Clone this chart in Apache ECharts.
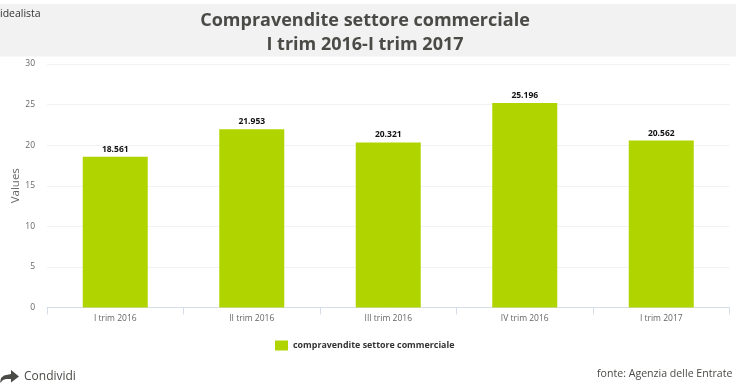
<!DOCTYPE html>
<html><head><meta charset="utf-8">
<style>html,body{margin:0;padding:0;background:#fff}#c{width:740px;height:389px}</style>
<script src="https://cdn.jsdelivr.net/npm/echarts@6/dist/echarts.min.js"></script>
</head><body><div id="c"></div>
<script>
const categories = ["I trim 2016","II trim 2016","III trim 2016","IV trim 2016","I trim 2017"];
const values = [18.561,21.953,20.321,25.196,20.562];
const seriesName = "compravendite settore commerciale";
const titleLines = "Compravendite settore commerciale\nI trim 2016-I trim 2017";
const FONT = "'Open Sans'";
const chart = echarts.init(document.getElementById('c'),null,{renderer:'canvas'});
chart.setOption({
  animation:false,
  textStyle:{fontFamily:FONT},
  graphic:[
    {type:'rect',z:-1,shape:{x:0,y:4,width:736,height:52.5},style:{fill:'#f2f2f2'}},
    {type:'text',x:0,y:9,style:{text:'idealista',font:"10.5px "+FONT,fill:'#333'}},
    {type:'text',x:24,y:371,style:{text:'Condividi',font:"12px "+FONT,fill:'#4a4a46'}},
    {type:'text',x:597,y:368,style:{text:'fonte: Agenzia delle Entrate',font:"10.6px "+FONT,fill:'#4a4a46'}},
    {type:'polygon',x:0,y:370,shape:{points:[[0,13],[1,8],[4,5.5],[11,4],[11,0],[19,6.5],[11,12.5],[11,9],[6,9],[3,10]]},style:{fill:'#4a4a46'}}
  ],
  title:{text:titleLines,left:360,textAlign:'center',top:4,
    textStyle:{fontFamily:FONT,fontSize:18,fontWeight:'bold',color:'#4a4a46',lineHeight:24}},
  legend:{top:335.5,left:270,itemWidth:13,itemHeight:10,itemGap:4,
    icon:'rect',data:[seriesName],
    textStyle:{fontFamily:FONT,fontSize:8.9,fontWeight:'bold',color:'#333'}},
  grid:{left:47,right:10.5,top:64,bottom:81.5,outerBoundsMode:'none'},
  xAxis:{type:'category',data:categories,
    axisLine:{lineStyle:{color:'#d5dde8'}},
    axisTick:{show:true,length:7,lineStyle:{color:'#d5dde8'}},
    axisLabel:{fontFamily:FONT,fontSize:8.5,color:'#666',margin:7}},
  yAxis:{type:'value',min:0,max:30,interval:5,name:'Values',nameLocation:'middle',nameGap:25,nameMoveOverlap:false,
    nameTextStyle:{fontFamily:FONT,fontSize:11.5,color:'#666'},
    axisLine:{show:false},axisTick:{show:false},
    axisLabel:{fontFamily:FONT,fontSize:8.5,color:'#666',margin:12},
    splitLine:{lineStyle:{color:'#f2f2f2'}}},
  series:[{type:'bar',name:seriesName,data:values,barWidth:65,
    itemStyle:{color:'#b0d400'},
    label:{show:true,position:'top',distance:3,fontFamily:FONT,fontSize:8.5,fontWeight:'bold',color:'#111',
      formatter:p=>p.value.toFixed(3)}}]
});
</script></body></html>
